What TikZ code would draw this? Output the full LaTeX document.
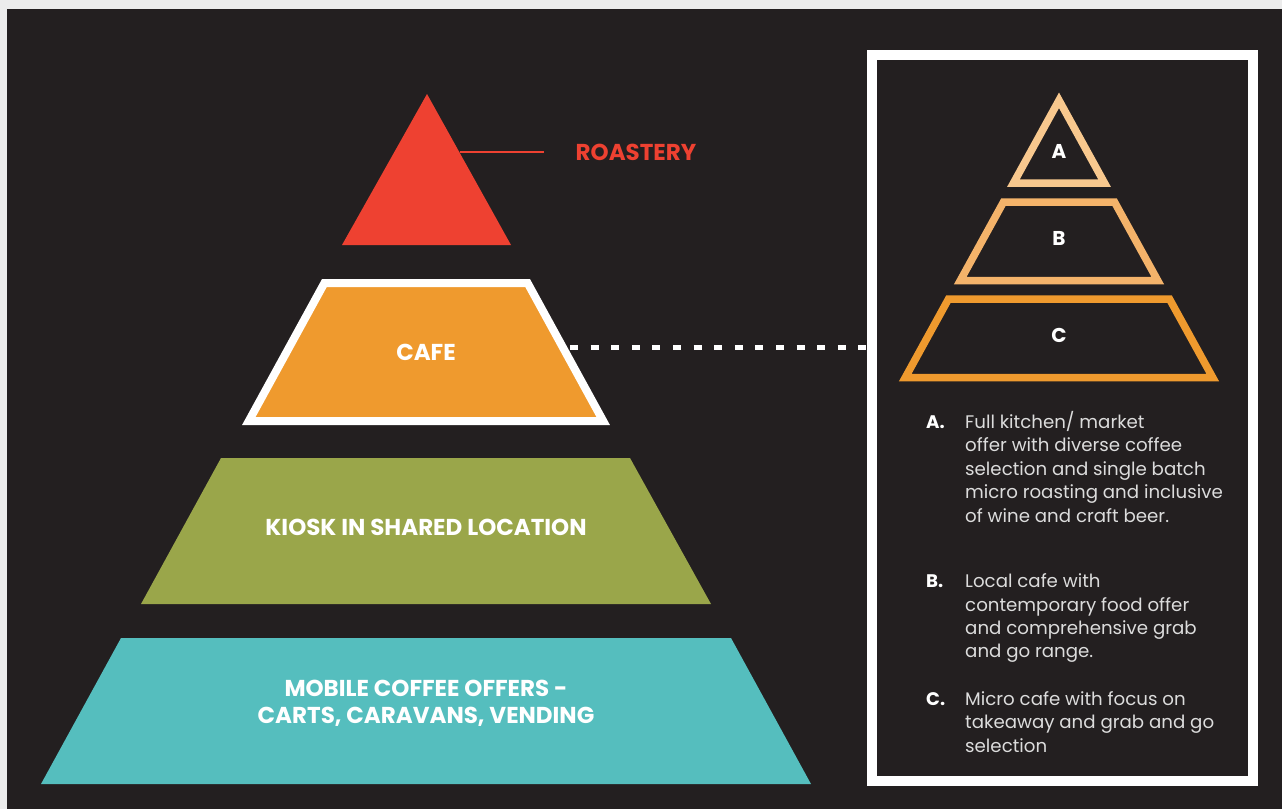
\documentclass[tikz,border=0pt]{standalone}
\usepackage{fontspec}
\setmainfont{Poppins}
\definecolor{pagegrey}{HTML}{ECECEC}
\definecolor{darkbg}{HTML}{231F20}
\definecolor{roastred}{HTML}{EE4131}
\definecolor{cafeorange}{HTML}{EF9A2E}
\definecolor{kioskgreen}{HTML}{9AA64A}
\definecolor{mobileteal}{HTML}{55BEBE}
\definecolor{tierA}{HTML}{F8C88E}
\definecolor{tierB}{HTML}{F4B36A}
\definecolor{desctext}{HTML}{DCDCDC}
\tikzset{
  tierlabel/.style={text=white, font=\bfseries\fontsize{23}{27}\selectfont, inner sep=0pt, anchor=base},
  smalllabel/.style={text=white, font=\bfseries\fontsize{20}{24}\selectfont, inner sep=0pt, anchor=base},
  descline/.style={text=desctext, font=\fontsize{18.2}{22}\selectfont, inner sep=0pt, anchor=base west},
  desckey/.style={text=white, font=\bfseries\fontsize{18.2}{22}\selectfont, inner sep=0pt, anchor=base west},
  outlinetier/.style={line width=7.5pt, line join=miter},
}
\begin{document}
\begin{tikzpicture}[x=1pt, y=-1pt]
\useasboundingbox (0,0) rectangle (1282,809);
\fill[pagegrey] (0,0) rectangle (1282,809);
\fill[darkbg] (7,9) rectangle (1282,809);

% main pyramid
\fill[roastred] (427,94) -- (511,245) -- (342,245) -- cycle;
\filldraw[fill=cafeorange, draw=white, line width=8pt, line join=miter]
  (324.4,283) -- (527.6,283) -- (603.2,421) -- (248.8,421) -- cycle;
\fill[kioskgreen] (221,458) -- (630,458) -- (711,604) -- (141,604) -- cycle;
\fill[mobileteal] (121,638) -- (731,638) -- (811,784) -- (41,784) -- cycle;

\node[tierlabel, text=roastred] (roast) at (636,160) {ROASTERY};
\node[tierlabel] (cafe) at (426,360) {CAFE};
\node[tierlabel] (kiosk) at (426,535) {KIOSK IN SHARED LOCATION};
\node[tierlabel] (mob1) at (426,696.5) {MOBILE COFFEE OFFERS -};
\node[tierlabel] (mob2) at (426,723) {CARTS, CARAVANS, VENDING};

\coordinate (roastedge) at (459.5,152);
\coordinate (roastend) at (544,152);
\draw[roastred, line width=1.5pt] (roastedge) -- (roastend);

% legend frame
\draw[white, line width=10pt] (872,55) rectangle (1253,781);
\coordinate (frameleft) at (867,347.5);
\coordinate (cafeedge) at (570,347.5);
\draw[white, line width=5.5pt, dash pattern=on 8pt off 12.6pt] (cafeedge) -- (frameleft);

% small pyramid
\draw[outlinetier, tierA] (1059,100.3) -- (1104.5,183) -- (1013.5,183) -- cycle;
\draw[outlinetier, tierB] (1003.5,202) -- (1114.5,202) -- (1157.7,280.5) -- (960.3,280.5) -- cycle;
\draw[outlinetier, cafeorange] (948.5,299) -- (1169.5,299) -- (1212.7,377.5) -- (905.3,377.5) -- cycle;
\node[smalllabel] (la) at (1059,158) {A};
\node[smalllabel] (lb) at (1059,245) {B};
\node[smalllabel] (lc) at (1059,342) {C};

% descriptions
\node[desckey] (ka) at (926,428) {A.};
\node[descline] (a1) at (965,428) {Full kitchen/ market};
\node[descline] (a2) at (965,451.5) {offer with diverse coffee};
\node[descline] (a3) at (965,475) {selection and single batch};
\node[descline] (a4) at (965,498) {micro roasting and inclusive};
\node[descline] (a5) at (965,522) {of wine and craft beer.};

\node[desckey] (kb) at (926,587) {B.};
\node[descline] (b1) at (965,587) {Local cafe with};
\node[descline] (b2) at (965,611) {contemporary food offer};
\node[descline] (b3) at (965,634) {and comprehensive grab};
\node[descline] (b4) at (965,657) {and go range.};

\node[desckey] (kc) at (926,705) {C.};
\node[descline] (c1) at (965,705) {Micro cafe with focus on};
\node[descline] (c2) at (965,728) {takeaway and grab and go};
\node[descline] (c3) at (965,752) {selection};
\end{tikzpicture}
\end{document}
